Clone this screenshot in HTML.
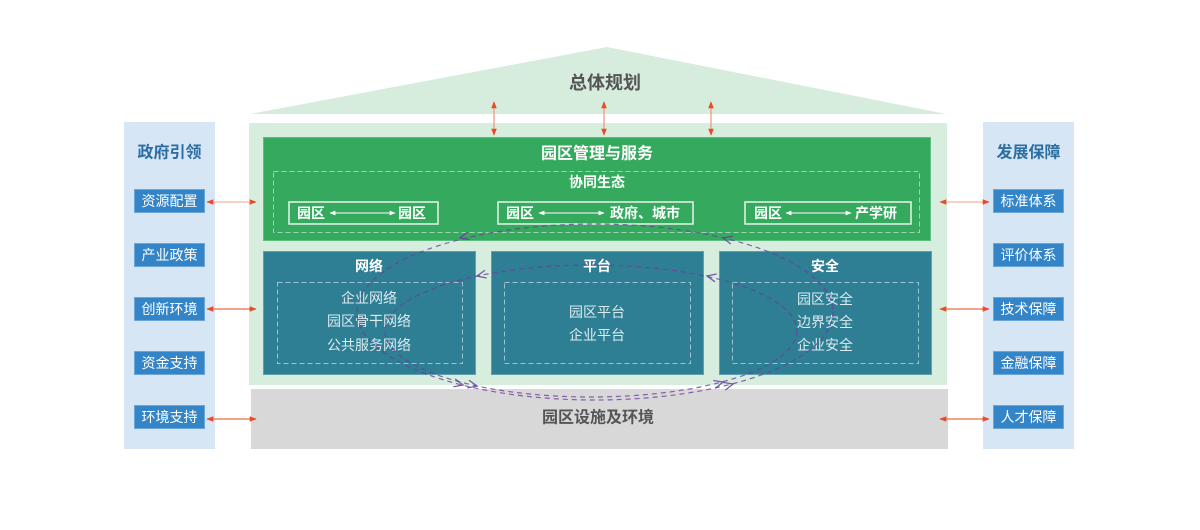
<!DOCTYPE html>
<html><head><meta charset="utf-8"><style>
html,body{margin:0;padding:0;background:#fff;width:1200px;height:530px;overflow:hidden}
svg{display:block}
text{font-family:"Liberation Sans","Noto Sans CJK SC",sans-serif}
</style></head><body>
<svg width="1200" height="530" viewBox="0 0 1200 530" xmlns="http://www.w3.org/2000/svg">
<defs>
<marker id="ra" viewBox="0 0 10 10" refX="9" refY="5" markerWidth="9" markerHeight="7" orient="auto-start-reverse" markerUnits="userSpaceOnUse"><path d="M0,1 L10,5 L0,9 z" fill="#e84b26"/></marker>
<marker id="wa" viewBox="0 0 10 10" refX="9" refY="5" markerWidth="9" markerHeight="6" orient="auto-start-reverse" markerUnits="userSpaceOnUse"><path d="M0,1 L10,5 L0,9 z" fill="#ffffff"/></marker>
</defs>

<!-- roof -->
<polygon points="250,114 607,47 946,114" fill="#d6ecdd"/>
<text x="605" y="83" font-size="18" font-weight="bold" fill="#555" text-anchor="middle" dominant-baseline="central">总体规划</text>

<!-- side panels -->
<rect x="124" y="122" width="91" height="327" fill="#d6e6f4"/>
<rect x="983" y="122" width="91" height="327" fill="#d6e6f4"/>
<text x="169.5" y="153" font-size="16" font-weight="bold" fill="#2b6ea3" text-anchor="middle" dominant-baseline="central">政府引领</text>
<text x="1028.5" y="153" font-size="16" font-weight="bold" fill="#2b6ea3" text-anchor="middle" dominant-baseline="central">发展保障</text>

<g fill="#3484c8" stroke="#6aa6da" stroke-width="1">
<rect x="134.5" y="189.5" width="70" height="23"/>
<rect x="134.5" y="243.5" width="70" height="23"/>
<rect x="134.5" y="297.5" width="70" height="23"/>
<rect x="134.5" y="351.5" width="70" height="23"/>
<rect x="134.5" y="405.5" width="70" height="23"/>
<rect x="993.5" y="189.5" width="70" height="23"/>
<rect x="993.5" y="243.5" width="70" height="23"/>
<rect x="993.5" y="297.5" width="70" height="23"/>
<rect x="993.5" y="351.5" width="70" height="23"/>
<rect x="993.5" y="405.5" width="70" height="23"/>
</g>
<g font-size="14" fill="#fff" text-anchor="middle" dominant-baseline="central">
<text x="169.5" y="201">资源配置</text>
<text x="169.5" y="255">产业政策</text>
<text x="169.5" y="309">创新环境</text>
<text x="169.5" y="363">资金支持</text>
<text x="169.5" y="417">环境支持</text>
<text x="1028.5" y="201">标准体系</text>
<text x="1028.5" y="255">评价体系</text>
<text x="1028.5" y="309">技术保障</text>
<text x="1028.5" y="363">金融保障</text>
<text x="1028.5" y="417">人才保障</text>
</g>

<!-- main background -->
<rect x="249" y="123" width="698" height="262" fill="#d7eedf"/>
<!-- grey base -->
<rect x="251" y="389" width="697" height="60" fill="#d8d8d8"/>
<text x="598" y="418" font-size="16" font-weight="bold" fill="#555" text-anchor="middle" dominant-baseline="central">园区设施及环境</text>

<!-- green box -->
<rect x="263.5" y="137.5" width="667" height="103" fill="#35aa5f" stroke="#5cbf80" stroke-width="1"/>
<text x="597" y="154" font-size="16" font-weight="bold" fill="#fff" text-anchor="middle" dominant-baseline="central">园区管理与服务</text>
<rect x="273.5" y="171.5" width="646" height="61" fill="none" stroke="#9fd6b1" stroke-width="1" stroke-dasharray="5,3"/>
<text x="597" y="182" font-size="14" font-weight="bold" fill="#fff" text-anchor="middle" dominant-baseline="central">协同生态</text>

<g fill="none" stroke="#e6f5ea" stroke-width="1.5">
<rect x="289" y="202" width="149" height="22"/>
<rect x="498" y="202" width="195" height="22"/>
<rect x="745" y="202" width="166" height="22"/>
</g>
<g stroke="#fff" stroke-width="1">
<line x1="330" y1="213" x2="395" y2="213" marker-start="url(#wa)" marker-end="url(#wa)"/>
<line x1="539" y1="213" x2="604" y2="213" marker-start="url(#wa)" marker-end="url(#wa)"/>
<line x1="786" y1="213" x2="851" y2="213" marker-start="url(#wa)" marker-end="url(#wa)"/>
</g>
<g font-size="14" fill="#fff" dominant-baseline="central" font-weight="bold">
<text x="297" y="213">园区</text>
<text x="398" y="213">园区</text>
<text x="506" y="213">园区</text>
<text x="610" y="213">政府、城市</text>
<text x="754" y="213">园区</text>
<text x="855" y="213">产学研</text>
</g>

<!-- teal boxes -->
<g fill="#2e7e94" stroke="#5e9fb0" stroke-width="1">
<rect x="263.5" y="251.5" width="212" height="123"/>
<rect x="491.5" y="251.5" width="212" height="123"/>
<rect x="719.5" y="251.5" width="212" height="123"/>
</g>
<g fill="none" stroke="#9cc3cf" stroke-width="1" stroke-dasharray="5,3">
<rect x="277.5" y="282.5" width="185" height="81"/>
<rect x="504.5" y="282.5" width="186" height="81"/>
<rect x="732.5" y="282.5" width="186" height="81"/>
</g>
<g font-size="14" font-weight="bold" fill="#fff" text-anchor="middle" dominant-baseline="central">
<text x="369" y="266">网络</text>
<text x="597" y="266">平台</text>
<text x="825" y="266">安全</text>
</g>
<g font-size="14" fill="#dcecef" text-anchor="middle" dominant-baseline="central">
<text x="369" y="298">企业网络</text>
<text x="369" y="321">园区骨干网络</text>
<text x="369" y="345">公共服务网络</text>
<text x="597" y="312">园区平台</text>
<text x="597" y="335">企业平台</text>
<text x="825" y="299">园区安全</text>
<text x="825" y="322">边界安全</text>
<text x="825" y="345">企业安全</text>
</g>

<!-- purple dashed loops -->
<g fill="none" stroke="#6a3d9a" stroke-opacity="0.78" stroke-width="1.2" stroke-dasharray="5,4">
<ellipse cx="595" cy="312" rx="238" ry="88"/>
<ellipse cx="591" cy="331" rx="206" ry="66"/>
</g>
<g fill="none" stroke="#6a3d9a" stroke-opacity="0.85" stroke-width="1.3">
<path d="M-9,-4 L0,0 L-9,4" transform="translate(460,238) rotate(165.7)"/>
<path d="M-9,-4 L0,0 L-9,4" transform="translate(723,238) rotate(193.3)"/>
<path d="M-9,-4 L0,0 L-9,4" transform="translate(463,385) rotate(13.8)"/>
<path d="M-9,-4 L0,0 L-9,4" transform="translate(733,384) rotate(-14.7)"/>
<path d="M-9,-4 L0,0 L-9,4" transform="translate(477,276) rotate(168)"/>
<path d="M-9,-4 L0,0 L-9,4" transform="translate(707,276) rotate(192.3)"/>
<path d="M-9,-4 L0,0 L-9,4" transform="translate(477,386) rotate(12)"/>
<path d="M-9,-4 L0,0 L-9,4" transform="translate(723,382) rotate(-15)"/>
</g>

<!-- red arrows -->
<g stroke-width="1.3">
<line x1="494" y1="102" x2="494" y2="135" stroke="#f29a84" marker-start="url(#ra)" marker-end="url(#ra)"/>
<line x1="604" y1="102" x2="604" y2="135" stroke="#f29a84" marker-start="url(#ra)" marker-end="url(#ra)"/>
<line x1="711" y1="102" x2="711" y2="135" stroke="#f29a84" marker-start="url(#ra)" marker-end="url(#ra)"/>
<line x1="207" y1="202" x2="256" y2="202" stroke="#f4b3a2" marker-start="url(#ra)" marker-end="url(#ra)"/>
<line x1="207" y1="309" x2="256" y2="309" stroke="#ec6a47" marker-start="url(#ra)" marker-end="url(#ra)"/>
<line x1="207" y1="419" x2="256" y2="419" stroke="#ec6a47" marker-start="url(#ra)" marker-end="url(#ra)"/>
<line x1="940" y1="202" x2="989" y2="202" stroke="#f4b3a2" marker-start="url(#ra)" marker-end="url(#ra)"/>
<line x1="940" y1="309" x2="989" y2="309" stroke="#ec6a47" marker-start="url(#ra)" marker-end="url(#ra)"/>
<line x1="940" y1="419" x2="989" y2="419" stroke="#ec6a47" marker-start="url(#ra)" marker-end="url(#ra)"/>
</g>
</svg>
</body></html>
